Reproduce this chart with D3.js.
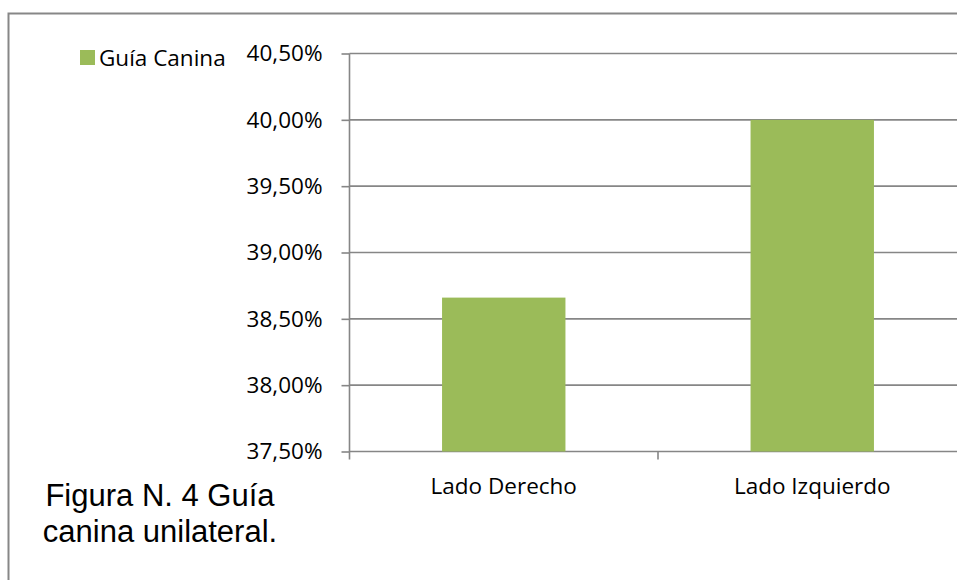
<!DOCTYPE html>
<html>
<head>
<meta charset="utf-8">
<script src="https://cdn.jsdelivr.net/npm/d3@7"></script>
<style>
  html, body { margin: 0; padding: 0; background: #fff; }
  svg { display: block; }
</style>
</head>
<body>
<svg id="chart" width="957" height="580"></svg>
<script>
// Chart data
const categories = ["Lado Derecho", "Lado Izquierdo"];
const values = [38.66, 40.00];
const seriesName = "Guía Canina";
const yTicks = [37.5, 38.0, 38.5, 39.0, 39.5, 40.0, 40.5];
const captionLines = ["Figura N. 4 Guía", "canina unilateral."];

const svg = d3.select("#chart");
const W = 957, H = 580;
const gridColor = "#868686";
const barColor = "#9BBB59";
const labelFont = "'Open Sans', 'DejaVu Sans', sans-serif";
const labelSize = "22.5px";

// Outer chart frame
svg.append("rect")
  .attr("x", 8.5).attr("y", 13.5)
  .attr("width", W + 20).attr("height", H + 20)
  .attr("fill", "none").attr("stroke", "#878787").attr("stroke-width", 2);

const plot = { left: 349.5, right: 966.5, top: 53.5, bottom: 451.5 };

const y = d3.scaleLinear().domain([37.5, 40.5]).range([plot.bottom, plot.top]);
const x = d3.scaleBand().domain(categories).range([plot.left, plot.right])
  .paddingInner(0.6).paddingOuter(0.3);

const fmt = v => v.toFixed(2).replace(".", ",") + "%";

// Horizontal gridlines
svg.append("g").selectAll("line").data(yTicks).join("line")
  .attr("x1", plot.left).attr("x2", plot.right)
  .attr("y1", d => y(d)).attr("y2", d => y(d))
  .attr("stroke", gridColor).attr("stroke-width", 1.6);

// Bars
svg.append("g").selectAll("rect").data(values).join("rect")
  .attr("x", (d, i) => x(categories[i]))
  .attr("width", x.bandwidth())
  .attr("y", d => y(d))
  .attr("height", d => y(37.5) - y(d))
  .attr("fill", barColor);

// Y axis
const yAxis = d3.axisLeft(y).tickValues(yTicks).tickFormat(fmt)
  .tickSize(8).tickPadding(19);
const gy = svg.append("g").attr("transform", `translate(${plot.left},0)`).call(yAxis);
gy.select(".domain").remove();
gy.selectAll(".tick line").attr("stroke", gridColor).attr("stroke-width", 1.6);
gy.selectAll(".tick text").attr("fill", "#000")
  .style("font-family", labelFont).style("font-size", labelSize);
svg.append("line")
  .attr("x1", plot.left).attr("x2", plot.left)
  .attr("y1", plot.top).attr("y2", plot.bottom + 8)
  .attr("stroke", gridColor).attr("stroke-width", 1.6);

// X axis: category labels and boundary ticks
const xb = d3.scaleBand().domain(categories).range([plot.left, plot.right]);
svg.append("g").selectAll("line").data(categories.slice(1)).join("line")
  .attr("x1", d => xb(d)).attr("x2", d => xb(d))
  .attr("y1", plot.bottom).attr("y2", plot.bottom + 8)
  .attr("stroke", gridColor).attr("stroke-width", 1.6);
svg.append("g").selectAll("text").data(categories).join("text")
  .attr("x", d => xb(d) + xb.bandwidth() / 2)
  .attr("y", 494)
  .attr("text-anchor", "middle")
  .style("font-family", labelFont).style("font-size", labelSize)
  .text(d => d);

// Legend
svg.append("rect").attr("x", 80).attr("y", 50).attr("width", 15).attr("height", 15)
  .attr("fill", barColor);
svg.append("text").attr("x", 99).attr("y", 66)
  .style("font-family", labelFont).style("font-size", labelSize)
  .text(seriesName);

// Caption
svg.append("g").selectAll("text").data(captionLines).join("text")
  .attr("x", 160).attr("y", (d, i) => 506 + i * 36)
  .attr("text-anchor", "middle")
  .style("font-family", "'Liberation Sans', Arial, sans-serif")
  .style("font-size", "31px")
  .text(d => d);
</script>
</body>
</html>
